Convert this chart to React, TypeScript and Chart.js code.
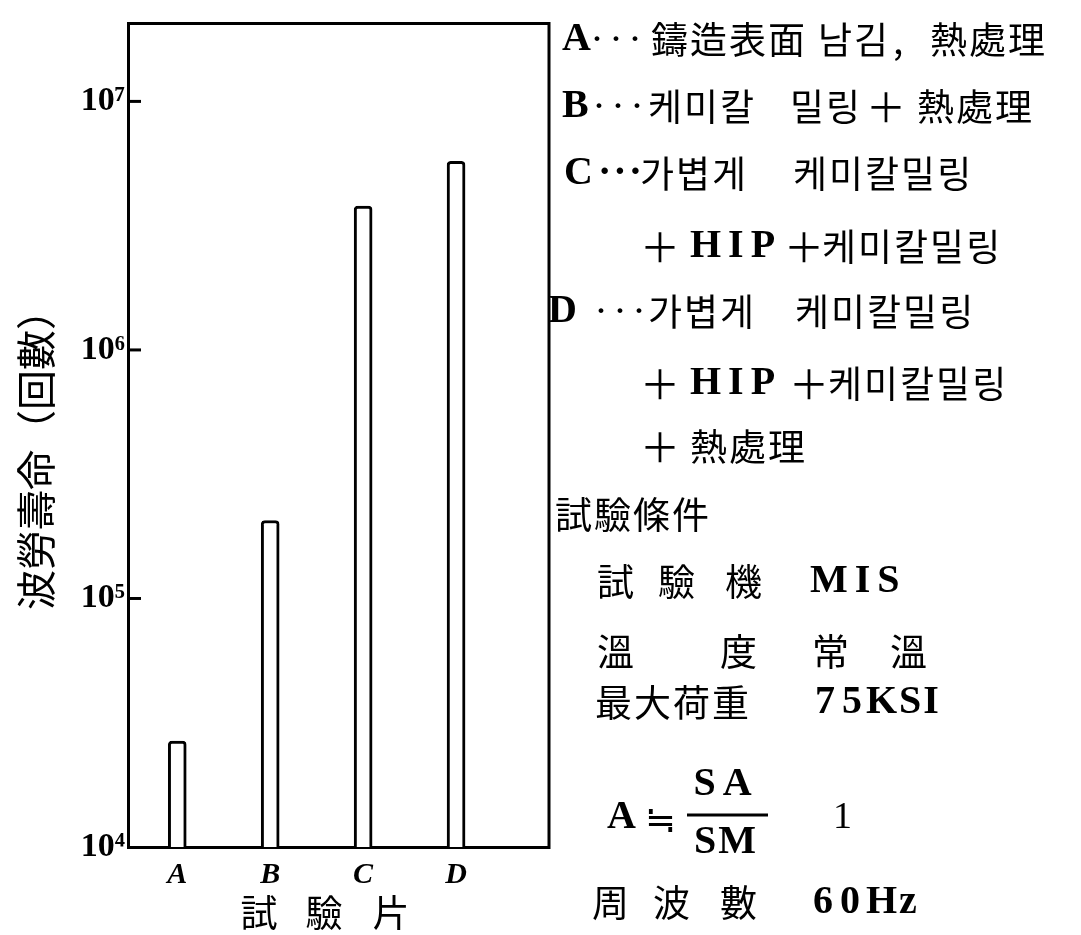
import React, { useEffect, useRef } from 'react';
import { Chart, registerables } from 'chart.js';

Chart.register(...registerables);

// ---- data ----
const categories = ['A', 'B', 'C', 'D'];
const fatigueLife = [2.67e4, 2.06e5, 3.79e6, 5.74e6];
const yTickValues = [1e4, 1e5, 1e6, 1e7];
const yTickLabels = ['10⁴', '10⁵', '10⁶', '10⁷'];
const yAxisTitle = '波勞壽命（回數）';
const xAxisTitle = ['試', '驗', '片'];
const Y_MIN = 1e4;
const Y_MAX = 2.06e7;
const X_MIN = 0.47;
const X_MAX = 5.0;

type Kind = 'L' | 'K' | 'D' | 'B' | 'N' | 'P';
type Seg = [number, string, Kind];

const noteLines: { y: number; segs: Seg[] }[] = [
  { y: 40, segs: [[562, 'A', 'L'], [592, '···', 'D'], [651, '鑄造表面', 'K'], [818, '남김', 'K'], [893, ',', 'K'], [930, '熱處理', 'K']] },
  { y: 107, segs: [[562, 'B', 'L'], [594, '···', 'D'], [648, '케미칼', 'K'], [790, '밀링', 'K'], [866, '＋', 'P'], [917, '熱處理', 'K']] },
  { y: 174, segs: [[564, 'C', 'L'], [598, '···', 'B'], [640, '가볍게', 'K'], [793, '케미칼밀링', 'K']] },
  { y: 247, segs: [[640, '＋', 'P'], [690, 'HIP', 'L'], [784, '＋', 'P'], [822, '케미칼밀링', 'K']] },
  { y: 312, segs: [[548, 'D', 'L'], [596, '···', 'D'], [648, '가볍게', 'K'], [795, '케미칼밀링', 'K']] },
  { y: 384, segs: [[640, '＋', 'P'], [690, 'HIP', 'L'], [789, '＋', 'P'], [828, '케미칼밀링', 'K']] },
  { y: 447, segs: [[640, '＋', 'P'], [690, '熱處理', 'K']] },
  { y: 515, segs: [[555, '試驗條件', 'K']] },
  { y: 582, segs: [[597, '試', 'K'], [658, '驗', 'K'], [725, '機', 'K'], [810, 'MIS', 'L']] },
  { y: 652, segs: [[597, '溫', 'K'], [720, '度', 'K'], [812, '常', 'K'], [890, '溫', 'K']] },
  { y: 703, segs: [[595, '最大荷重', 'K'], [815, '75', 'L'], [866, 'KSI', 'B']] },
  { y: 818, segs: [[607, 'A', 'L'], [645, '≒', 'K'], [833, '1', 'N']] },
  { y: 903, segs: [[592, '周', 'K'], [653, '波', 'K'], [720, '數', 'K'], [813, '60', 'L'], [866, 'Hz', 'B']] },
];

function drawSeg(ctx: CanvasRenderingContext2D, x: number, y: number, text: string, kind: Kind, align: CanvasTextAlign = 'left') {
  ctx.save();
  ctx.fillStyle = '#000';
  ctx.textBaseline = 'middle';
  ctx.textAlign = align;
  if (kind === 'L') {
    ctx.font = 'bold 40px "Liberation Serif"';
    (ctx as any).letterSpacing = '7px';
  } else if (kind === 'B') {
    ctx.font = 'bold 40px "Liberation Serif"';
    (ctx as any).letterSpacing = '2px';
  } else if (kind === 'N') {
    ctx.font = '38px "Liberation Serif"';
  } else if (kind === 'D') {
    ctx.font = 'bold 30px "Liberation Serif"';
    (ctx as any).letterSpacing = '9px';
  } else if (kind === 'P') {
    ctx.font = '40px "Noto Sans CJK KR"';
  } else {
    ctx.font = '37px "Noto Sans CJK KR"';
    (ctx as any).letterSpacing = '2px';
  }
  ctx.fillText(text, x, y);
  ctx.restore();
}

const overlayPlugin = {
  id: 'overlay',
  afterDraw(chart: any) {
    const ctx: CanvasRenderingContext2D = chart.ctx;
    const { left, right, top, bottom } = chart.chartArea;
    const ys = chart.scales.y;
    ctx.save();
    ctx.strokeStyle = '#000';
    ctx.lineWidth = 3;
    ctx.beginPath();
    ctx.moveTo(left - 1, top);
    ctx.lineTo(right, top);
    ctx.lineTo(right, bottom + 2);
    ctx.stroke();
    yTickValues.forEach((v) => {
      if (v <= Y_MIN) return;
      const py = ys.getPixelForValue(v);
      ctx.beginPath();
      ctx.moveTo(left, py);
      ctx.lineTo(left + 13, py);
      ctx.stroke();
    });
    ctx.restore();

    ctx.save();
    ctx.fillStyle = '#000';
    ctx.font = '40px "Noto Sans CJK KR"';
    ctx.textAlign = 'center';
    ctx.textBaseline = 'middle';
    ctx.translate(36, 450);
    ctx.rotate(-Math.PI / 2);
    ctx.fillText(yAxisTitle, 0, 0);
    ctx.restore();

    const xCenters = [260, 325, 392];
    xAxisTitle.forEach((t, i) => drawSeg(ctx, xCenters[i], 913, t, 'K', 'center'));

    noteLines.forEach((ln) => ln.segs.forEach(([x, t, k]) => drawSeg(ctx, x, ln.y, t, k)));

    drawSeg(ctx, 726, 785, 'SA', 'L', 'center');
    drawSeg(ctx, 726, 843, 'SM', 'B', 'center');
    ctx.save();
    ctx.strokeStyle = '#000';
    ctx.lineWidth = 3;
    ctx.beginPath();
    ctx.moveTo(687, 815);
    ctx.lineTo(768, 815);
    ctx.stroke();
    ctx.restore();
  },
};

export default function App() {
  const ref = useRef<HTMLCanvasElement>(null);
  useEffect(() => {
    if (!ref.current) return;
    const chart = new Chart(ref.current, {
      type: 'bar',
      data: {
        datasets: [
          {
            data: categories.map((_, i) => ({ x: i + 1, y: fatigueLife[i] })) as any,
            backgroundColor: '#fff',
            borderColor: '#000',
            borderWidth: 3,
            borderSkipped: 'bottom',
            borderRadius: { topLeft: 4, topRight: 4, bottomLeft: 0, bottomRight: 0 },
            barThickness: 18,
          },
        ],
      },
      options: {
        responsive: false,
        animation: false,
        devicePixelRatio: 1,
        layout: { padding: { left: 0, top: 22, right: 532, bottom: 0 } },
        plugins: { legend: { display: false }, tooltip: { enabled: false } },
        scales: {
          x: {
            type: 'linear',
            offset: false,
            min: X_MIN,
            max: X_MAX,
            grid: { display: false, drawTicks: false, offset: false },
            border: { display: true, color: '#000', width: 3 },
            ticks: {
              color: '#000',
              padding: 10,
              font: { family: 'Liberation Serif', size: 30, style: 'italic', weight: 'bold' },
              callback: (v: any) => categories[Number(v) - 1] ?? '',
            },
            afterBuildTicks: (s: any) => {
              s.ticks = categories.map((_, i) => ({ value: i + 1 }));
            },
            afterFit: (s: any) => {
              s.height = 88;
            },
          },
          y: {
            type: 'logarithmic',
            min: Y_MIN,
            max: Y_MAX,
            grid: { display: false, drawTicks: false },
            border: { display: true, color: '#000', width: 3 },
            ticks: {
              color: '#000',
              padding: 3,
              font: { family: 'Liberation Serif', size: 34, weight: 'bold' },
              callback: (v: any) => {
                const i = yTickValues.indexOf(Number(v));
                return i >= 0 ? yTickLabels[i] : '';
              },
            },
            afterBuildTicks: (s: any) => {
              s.ticks = yTickValues.map((v) => ({ value: v }));
            },
            afterFit: (s: any) => {
              s.width = 128;
            },
          },
        },
      },
      plugins: [overlayPlugin],
    });
    return () => chart.destroy();
  }, []);
  return (
    <div style={{ position: 'absolute', left: 0, top: 0, width: 1081, height: 935, background: '#fff' }}>
      <canvas ref={ref} width={1081} height={935} style={{ width: 1081, height: 935, display: 'block' }} />
    </div>
  );
}
